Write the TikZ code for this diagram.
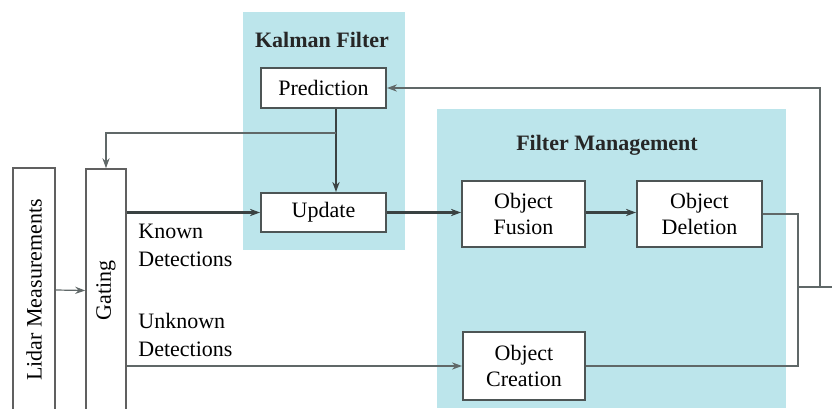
\documentclass[tikz,border=0pt]{standalone}
\usepackage{fontspec}
\setmainfont{Liberation Serif}
\usepackage{graphicx}
\usetikzlibrary{arrows.meta,calc}
\definecolor{bgcyan}{HTML}{BCE5EB}
\definecolor{boxline}{HTML}{4D5555}
\definecolor{wire}{HTML}{3A4242}
\definecolor{thinwire}{HTML}{606868}
\begin{document}
\begin{tikzpicture}[x=0.5pt,y=-0.5pt,
  every node/.style={font=\fontsize{11}{13}\selectfont},
  blk/.style={draw=boxline, line width=1pt, fill=white, inner sep=0pt, align=center},
  tallblk/.style={draw=gray!75!black, line width=0.8pt, fill=white, inner sep=0pt},
  region/.style={fill=bgcyan, draw=none},
  title/.style={font=\fontsize{11}{13}\selectfont\bfseries, text=black!85},
  wthin/.style={draw=thinwire, line width=0.6pt},
  wthick/.style={draw=wire, line width=1.1pt},
  arr/.style={-{Stealth[length=5pt,width=3.6pt]}},
  lbl/.style={align=left, inner sep=0pt, anchor=north west, font=\fontsize{11}{14}\selectfont}
]
\useasboundingbox (0,0) rectangle (832,408);
\clip (0,0) rectangle (832,408);

% background regions
\fill[region] (243,12) rectangle (405,250);
\fill[region] (437,109) rectangle (786,408);

% titles
\node[title] (kftitle) at (322,40) {Kalman Filter};
\node[title] (fmtitle) at (607,145) {Filter Management};

% blocks
\node[tallblk, minimum width=21pt, minimum height=122pt] (lidar) at (34,290) {\rotatebox{90}{Lidar Measurements}};
\node[tallblk, minimum width=20pt, minimum height=121.5pt] (gating) at (106,290.5) {\rotatebox{90}{Gating}};
\node[blk, minimum width=62.5pt, minimum height=20pt] (prediction) at (323.5,88) {Prediction};
\node[blk, minimum width=62.5pt, minimum height=19.5pt] (update) at (323.5,212.5) {Update};
\node[blk, minimum width=61.5pt, minimum height=33pt] (fusion) at (523.5,214) {Object\\Fusion};
\node[blk, minimum width=62.5pt, minimum height=33pt] (deletion) at (699.5,214) {Object\\Deletion};
\node[blk, minimum width=61pt, minimum height=34pt] (creation) at (524,366) {Object\\Creation};

% labels
\node[lbl] (known) at (138,224) {Known\\Detections};
\node[lbl] (unknown) at (138,313) {Unknown\\Detections};

% coordinates
\coordinate (split) at (336,133);
\coordinate (rj) at (798,287);
\coordinate (rc) at (820,287);
\coordinate (redge) at (834,287);

% connectors
\draw[wthin,arr] (lidar.east) -- (gating.west);
\draw[wthick,arr] (gating.east |- update.west) -- (update.west);
\draw[wthin,arr] (gating.east |- creation.west) -- (creation.west);
\draw[wthick,arr] (prediction.south -| split) -- (update.north -| split);
\draw[wthin,arr] (split) -| (gating.north);
\draw[wthick,arr] (update.east) -- (fusion.west |- update.east);
\draw[wthick,arr] (fusion.east |- update.east) -- (deletion.west |- update.east);
\draw[wthin] (deletion.east) -| (rj);
\draw[wthin] (creation.east) -| (rj);
\draw[wthin] (rj) -- (redge);
\draw[wthin,arr] (rc) |- (prediction.east);
\end{tikzpicture}
\end{document}
